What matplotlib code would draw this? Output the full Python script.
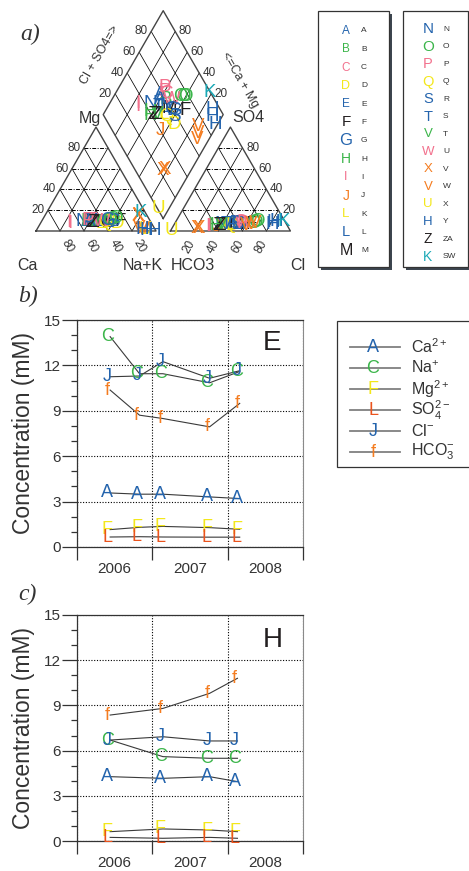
import numpy as np
import matplotlib
matplotlib.use('Agg')
import matplotlib.pyplot as plt
from matplotlib.patches import Rectangle
from matplotlib.ticker import MultipleLocator

plt.rcParams['font.family'] = ['Liberation Sans', 'DejaVu Sans']
plt.rcParams['mathtext.fontset'] = 'custom'
plt.rcParams['mathtext.rm'] = 'Liberation Sans'
plt.rcParams['mathtext.it'] = 'Liberation Sans:italic'
plt.rcParams['mathtext.bf'] = 'Liberation Sans:bold'

BLUE, GREEN, PINK, YELLOW = '#2464ad', '#3bb54a', '#f2718d', '#f3e71b'
ORANGE, BLACK, TEAL, RED = '#f47c20', '#231f20', '#1ba9b6', '#ea531d'
GREY = '#333333'

# sample key of panel a: plot symbol, key label, colour
key_sym = ['A', 'B', 'C', 'D', 'E', 'F', 'G', 'H', 'I', 'J', 'L', 'L', 'M',
           'N', 'O', 'P', 'Q', 'S', 'T', 'V', 'W', 'X', 'V', 'U', 'H', 'Z', 'K']
key_lab = ['A', 'B', 'C', 'D', 'E', 'F', 'G', 'H', 'I', 'J', 'K', 'L', 'M',
           'N', 'O', 'P', 'Q', 'R', 'S', 'T', 'U', 'V', 'W', 'X', 'Y', 'ZA', 'SW']
key_col = [BLUE, GREEN, PINK, YELLOW, BLUE, BLACK, BLUE, GREEN, PINK, ORANGE, YELLOW, BLUE, BLACK,
           BLUE, GREEN, PINK, YELLOW, BLUE, BLUE, GREEN, PINK, ORANGE, ORANGE, YELLOW, BLUE, BLACK, TEAL]

# piper samples: key label, cations Ca, Mg (% meq), anions Cl, SO4 (% meq)
pip_key = ['A', 'B', 'C', 'D', 'E', 'F', 'G', 'H', 'J', 'K', 'L', 'M', 'N', 'O', 'P', 'Q',
           'R', 'S', 'T', 'U', 'ZA', 'O', 'O', 'H', 'A', 'G', 'P', 'ZA',
           'I', 'I', 'V', 'V', 'W', 'W', 'W', 'X', 'Y', 'Y', 'Y', 'SW']
pip_ca = [53, 47, 47, 29, 36, 25, 32, 51, 37, 43, 43, 40, 57, 31, 50, 38,
          31, 49, 47, 41, 50, 34, 28, 53, 51, 35, 52, 48,
          69, 68, 8, 8, 11, 13, 9, 8, 7.5, 1.5, 11, 3.5]
pip_mg = [9, 8, 10, 7, 8, 9, 10, 9, 8, 7, 9, 8, 9, 11, 10, 8,
          9, 9, 8, 9, 8, 10, 12, 9, 9, 10, 10, 8,
          8, 7, 15, 14, 1, 2, 1, 1, 0.5, 0.5, 1, 18]
pip_cl = [50, 54, 55, 49, 54, 64, 55, 34, 36, 44, 49, 52, 39, 67, 55, 46,
          52, 44, 40, 58, 37, 66, 68, 36, 48, 53, 57, 39,
          30, 29, 21, 23, 64, 67, 61, 1, 82, 82, 84, 90]
pip_so4 = [7, 6, 8, 5, 6, 6, 7, 5, 4, 6, 6, 6, 6, 8, 7, 6,
           6, 6, 5, 7, 5, 7, 9, 5, 7, 7, 7, 5,
           4, 4, 2, 2, 6, 7, 5, 0, 8, 6, 9, 9.5]

# time series, mM
ion_lab = ['Ca$^{2+}$', 'Na$^{+}$', 'Mg$^{2+}$', 'SO$_4^{2-}$', 'Cl$^{-}$', 'HCO$_3^{-}$']
ion_sym = ['A', 'C', 'F', 'L', 'J', 'f']
ion_col = [BLUE, GREEN, YELLOW, RED, BLUE, ORANGE]

year_e = [2006.44, 2006.83, 2007.14, 2007.76, 2008.16]
e_ca = [3.57, 3.49, 3.49, 3.31, 3.20]
e_na = [13.9, 11.45, 11.45, 10.85, 11.6]
e_mg = [1.15, 1.30, 1.36, 1.28, 1.17]
e_so4 = [0.66, 0.68, 0.66, 0.65, 0.65]
e_cl = [11.25, 11.3, 12.25, 11.15, 11.65]
e_hco3 = [10.37, 8.71, 8.49, 7.94, 9.49]

year_h = [2006.44, 2007.14, 2007.76, 2008.13]
h_ca = [4.27, 4.16, 4.27, 3.94]
h_na = [6.7, 5.6, 5.49, 5.49]
h_mg = [0.62, 0.80, 0.73, 0.62]
h_so4 = [0.24, 0.18, 0.24, 0.18]
h_cl = [6.7, 6.92, 6.64, 6.64]
h_hco3 = [8.36, 8.8, 9.8, 10.8]

fig = plt.figure(figsize=(4.69, 8.71), dpi=100)
W, H = 469.0, 871.0

# ---------------- panel a: piper diagram ----------------
s, g = 100.0, 12.0
hh = np.sqrt(3) / 2
x0 = s + g
B = np.array([s + g / 2, g * hh])
U = np.array([s / 2, s * hh])
V = np.array([-s / 2, s * hh])

axp = fig.add_axes([0, 1 - 290 / H, 310 / W, 290 / H])
axp.set_xlim(-30, 228.33)
axp.set_ylim(-49.17, 192.5)
axp.axis('off')

def seg(p, q, **kw):
    axp.plot([p[0], q[0]], [p[1], q[1]], **kw)

thin = dict(color='black', lw=0.55)
dash = dict(color='black', lw=0.7, ls=(0, (4, 1.5, 1, 1.5)))
for p in [20, 40, 60, 80]:
    # cation triangle
    seg((p / 2, p * hh), (100 - p / 2, p * hh), **dash)
    seg((100 - p, 0), ((100 - p) / 2, (100 - p) * hh), **thin)
    seg((p, 0), (p + (100 - p) / 2, (100 - p) * hh), **thin)
    # anion triangle
    seg((x0 + p / 2, p * hh), (x0 + 100 - p / 2, p * hh), **dash)
    seg((x0 + p, 0), (x0 + p + (100 - p) / 2, (100 - p) * hh), **thin)
    seg((x0 + 100 - p, 0), (x0 + (100 - p) / 2, (100 - p) * hh), **thin)
    # diamond
    a = B + p / 100 * V
    seg(a, a + U, **thin)
    b = B + p / 100 * U
    seg(b, b + V, **thin)

    tk = dict(fontsize=8.5, color=GREY, va='center')
    axp.text(p / 2 - 3, p * hh, str(p), ha='right', **tk)
    axp.text(100 - p + 6, -13, str(p), ha='center', rotation=-60, **tk)
    axp.text(x0 + p - 4, -13, str(p), ha='center', rotation=60, **tk)
    axp.text(x0 + 100 - p / 2 + 3, p * hh, str(p), ha='left', **tk)
    q = B + V + p / 100 * U
    axp.text(q[0] - 3, q[1], str(p), ha='right', **tk)
    q = B + U + p / 100 * V
    axp.text(q[0] + 3, q[1], str(p), ha='left', **tk)

edge = dict(color='#444444', lw=1.0)
axp.plot([0, 100, 50, 0], [0, 0, 100 * hh, 0], **edge)
axp.plot([x0, x0 + 100, x0 + 50, x0], [0, 0, 100 * hh, 0], **edge)
dia = np.array([B, B + U, B + U + V, B + V, B])
axp.plot(dia[:, 0], dia[:, 1], **edge)

for k, ca, mg, cl, so4 in zip(pip_key, pip_ca, pip_mg, pip_cl, pip_so4):
    i = key_lab.index(k)
    sym, col = key_sym[i], key_col[i]
    nak = 100 - ca - mg
    cm, cs = ca + mg, cl + so4
    d = B + cs / 100 * U + cm / 100 * V
    for (x, y) in [(nak + mg / 2, mg * hh), (x0 + cl + so4 / 2, so4 * hh), (d[0], d[1])]:
        axp.text(x, y, sym, color=col, fontsize=13.5, ha='center', va='center', zorder=5)

# ---------------- overlay in pixel coordinates ----------------
ov = fig.add_axes([0, 0, 1, 1])
ov.set_xlim(0, W)
ov.set_ylim(H, 0)
ov.axis('off')

for txt, x, y in [('Mg', 90, 118), ('SO4', 248, 118), ('Ca', 27, 265),
                  ('Na+K', 143, 265), ('HCO3', 193, 265), ('Cl', 298, 265)]:
    ov.text(x, y, txt, fontsize=11.5, color=GREY, ha='center', va='center')
ov.text(100, 55, 'Cl + SO4=>', fontsize=9, color=GREY, rotation=60, ha='center', va='center')
ov.text(240, 80, '<=Ca + Mg', fontsize=9, color=GREY, rotation=-60, ha='center', va='center')

for txt, x, y in [('a)', 30, 34), ('b)', 28, 296), ('c)', 27, 594)]:
    ov.text(x, y, txt, fontsize=17, family='Liberation Serif', style='italic',
            color=GREY, ha='center', va='center')

# key boxes
key_fs = [8.5, 8.5, 8.5, 9, 8.5, 11, 12, 10, 9, 10, 9.5, 10.5, 11.5,
          11, 11, 10.5, 10.5, 10.5, 10.5, 9.5, 9.5, 9.5, 9.5, 9.5, 9.5, 10, 10]
ov.add_patch(Rectangle((321, 14), 71, 256, facecolor='#3d4650', edgecolor='none'))
ov.add_patch(Rectangle((318, 11), 71, 256, facecolor='white', edgecolor=GREY, lw=0.9))
ov.add_patch(Rectangle((406, 14), 66, 256, facecolor='#3d4650', edgecolor='none'))
ov.add_patch(Rectangle((403, 11), 65, 256, facecolor='white', edgecolor=GREY, lw=0.9))
for i in range(len(key_sym)):
    if i < 13:
        xs, xl, y = 346, 361, 31 + 18.3 * i
    else:
        xs, xl, y = 428, 443, 29.3 + 17.5 * (i - 13)
    ov.text(xs, y, key_sym[i], color=key_col[i], fontsize=key_fs[i], ha='center', va='center')
    ov.text(xl, y, key_lab[i], color=GREY, fontsize=6, ha='left', va='center')

# ion legend of panel b
ov.add_patch(Rectangle((337, 320.5), 140, 146, facecolor='white', edgecolor=GREY, lw=0.9))
for i, (lab, sym, col) in enumerate(zip(ion_lab, ion_sym, ion_col)):
    y = 347 + 21 * i
    ov.plot([350, 400], [y, y], color='#808080', lw=1.3)
    ov.text(373, y, sym, color=col, fontsize=13, ha='center', va='center')
    ov.text(411, y, lab, color=GREY, fontsize=11.5, ha='left', va='center')

# ---------------- panels b and c ----------------
def conc_panel(ax, years, series, tag, ty):
    for vals, sym, col in zip(series, ion_sym, ion_col):
        ax.plot(years, vals, color='#3a3a3a', lw=0.8, zorder=3)
        for x, y in zip(years, vals):
            ax.annotate(sym, (x, y), xytext=(-2, 0), textcoords='offset points',
                        ha='center', va='center', color=col, fontsize=13, zorder=4)
    ax.set_xlim(2006, 2009)
    ax.set_ylim(0, 15)
    ax.set_yticks(np.arange(0, 16, 3))
    ax.yaxis.set_minor_locator(MultipleLocator(1))
    ax.set_xticks([2006, 2007, 2008, 2009])
    ax.set_xticklabels([])
    ax.set_xticks([2006.5, 2007.5, 2008.5], minor=True)
    ax.set_xticklabels(['2006', '2007', '2008'], minor=True)
    ax.tick_params(axis='y', which='major', direction='out', length=10.8, width=0.9,
                   color=GREY, labelsize=11, pad=1, labelcolor=GREY)
    ax.tick_params(axis='y', which='minor', direction='out', length=4.3, width=0.9, color=GREY)
    ax.tick_params(axis='x', which='major', direction='out', length=9.4, width=0.9, color=GREY)
    ax.tick_params(axis='x', which='minor', length=0, labelsize=11, pad=11, labelcolor=GREY)
    ax.grid(True, which='major', ls=(0, (1, 1.5)), color='black', lw=0.8)
    for side in ['left', 'top', 'bottom']:
        ax.spines[side].set_color(GREY)
        ax.spines[side].set_linewidth(0.9)
    ax.spines['right'].set_color('#8a8a8a')
    ax.spines['right'].set_linewidth(0.8)
    ax.text(0.865, ty, tag, transform=ax.transAxes, fontsize=20, color=BLACK,
            ha='center', va='center')
    ax.set_ylabel('Concentration (mM)', fontsize=16.5, color=GREY)
    ax.yaxis.label.set_va('center')
    ax.yaxis.set_label_coords(-54 / 226, 0.5)

axb = fig.add_axes([77 / W, 1 - 547 / H, 226 / W, 227 / H])
conc_panel(axb, year_e, [e_ca, e_na, e_mg, e_so4, e_cl, e_hco3], 'E', 0.899)
axc = fig.add_axes([77 / W, 1 - 841 / H, 226 / W, 226 / H])
conc_panel(axc, year_h, [h_ca, h_na, h_mg, h_so4, h_cl, h_hco3], 'H', 0.889)

fig.savefig('out.png', dpi=100)
